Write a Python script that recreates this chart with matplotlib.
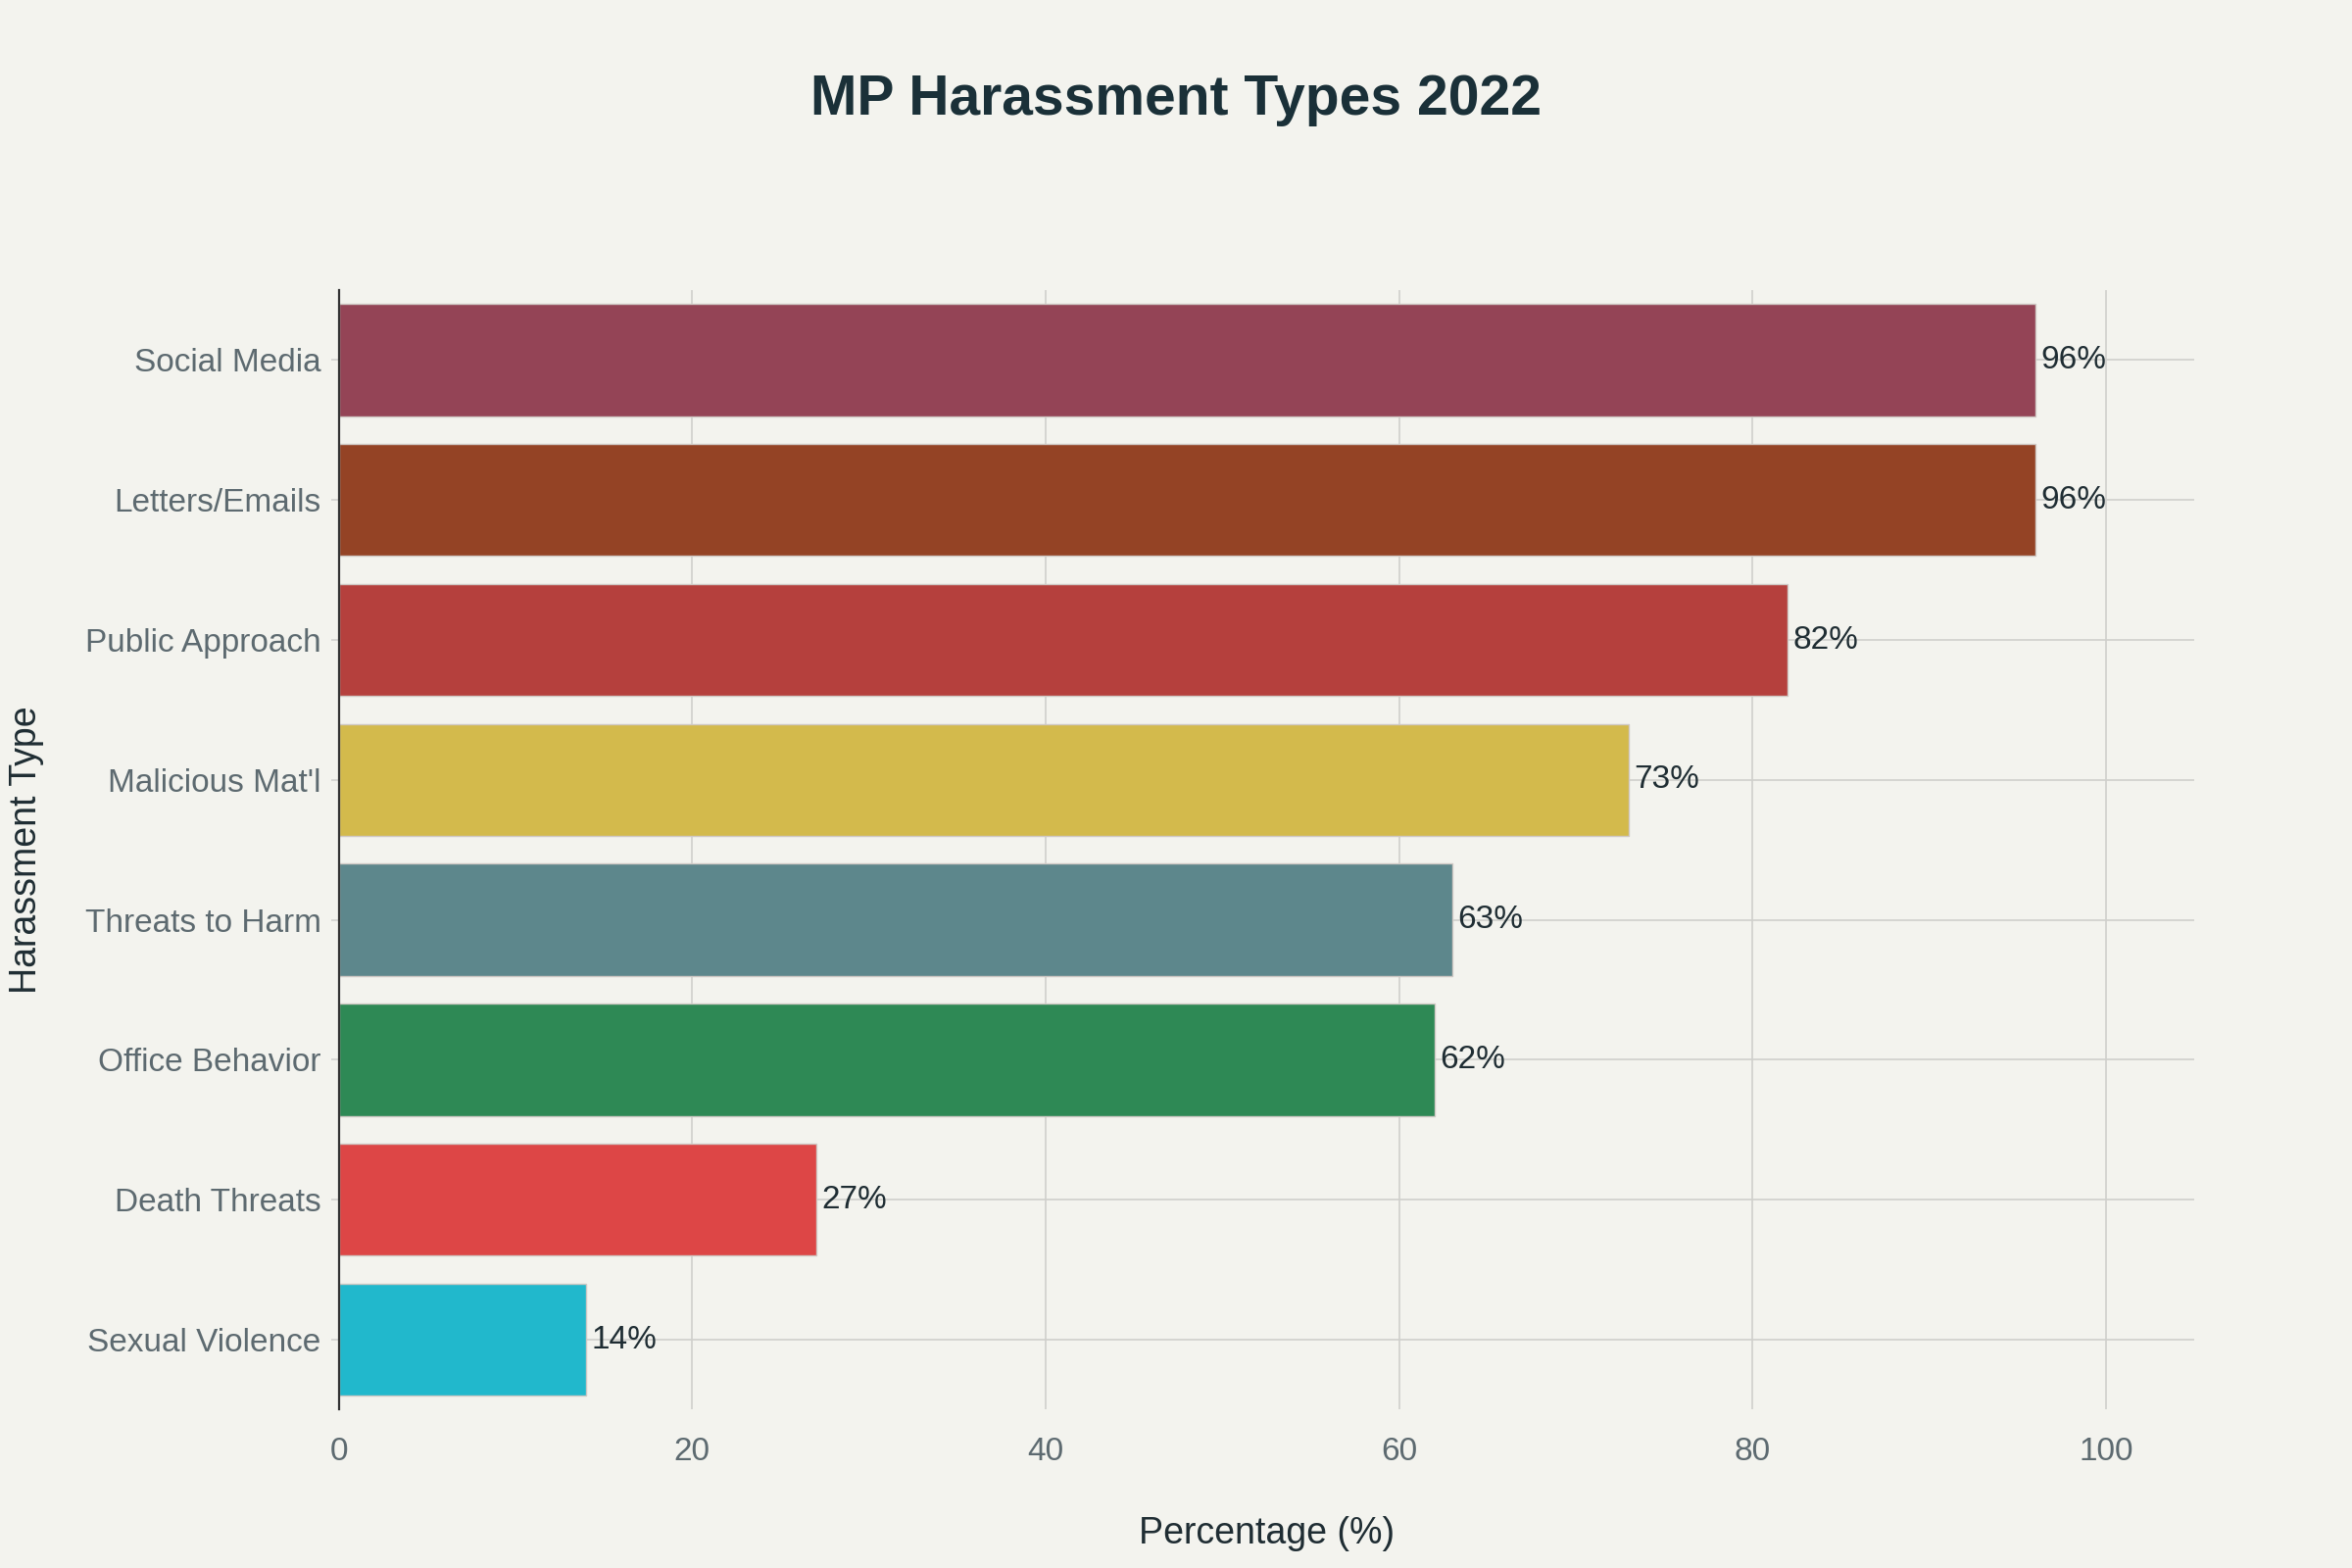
import matplotlib
matplotlib.use("Agg")
import matplotlib.pyplot as plt

categories = ["Social Media", "Letters/Emails", "Public Approach", "Malicious Mat'l",
              "Threats to Harm", "Office Behavior", "Death Threats", "Sexual Violence"]
values = [96, 96, 82, 73, 63, 62, 27, 14]
colors = ["#944456", "#944325", "#B5403D", "#D3BA4C", "#5D878C", "#2E8955", "#DD4646", "#21B8CC"]
x_ticks = [0, 20, 40, 60, 80, 100]

plt.rcParams['font.family'] = ['Liberation Sans', 'DejaVu Sans']
bg = "#F3F3EE"
fig = plt.figure(figsize=(12, 8), dpi=200, facecolor=bg)
ax = fig.add_axes([0.144, 0.101, 0.933 - 0.144, 0.815 - 0.101], facecolor=bg)

ypos = list(range(len(categories)))
bars = ax.barh(ypos, values, height=0.8, color=colors, edgecolor="#cfc8c4", linewidth=0.5, zorder=2)
for b, v in zip(bars, values):
    ax.text(b.get_width() + 0.3, b.get_y() + b.get_height() / 2, f"{v}%",
            va="center", ha="left", fontsize=12, color="#1f2d33", zorder=3)

ax.set_xlim(0, 105)
ax.set_ylim(len(categories) - 0.5, -0.5)
ax.set_yticks(ypos)
ax.set_yticklabels(categories)
ax.set_xticks(x_ticks)
ax.grid(True, color="#cfcfcc", linewidth=0.6, zorder=0)
ax.set_axisbelow(True)
for s in ["top", "right", "bottom"]:
    ax.spines[s].set_visible(False)
ax.spines["left"].set_color("#333333")
ax.spines["left"].set_linewidth(0.8)
ax.spines["left"].set_zorder(4)
ax.tick_params(axis="y", length=3, width=0.6, color="#d2d2cf", pad=3.5, labelsize=12, labelcolor="#5d6a70")
ax.tick_params(axis="x", length=0, pad=10, labelsize=12, labelcolor="#5d6a70")

ax.set_xlabel("Percentage (%)", fontsize=13.5, color="#1f2d33", labelpad=18)
ax.set_ylabel("Harassment Type", fontsize=13.5, color="#1f2d33", labelpad=15)
fig.text(0.5, 0.936, "MP Harassment Types 2022", ha="center", va="center",
         fontsize=20.5, fontweight="bold", color="#1a3038")

fig.savefig("out.png", dpi=200, facecolor=bg)
